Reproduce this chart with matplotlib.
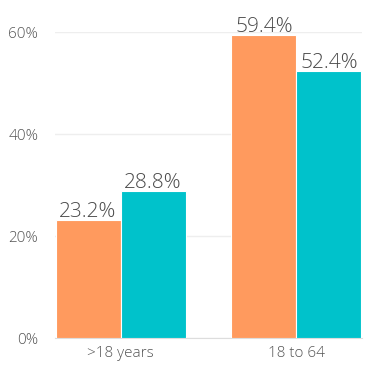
import numpy as np
import matplotlib.pyplot as plt

categories = ['>18 years', '18 to 64']
series_a = [23.2, 59.4]
series_b = [28.8, 52.4]
yticks = [0, 20, 40, 60]

plt.rcParams['font.family'] = ['Open Sans', 'DejaVu Sans']
plt.rcParams['font.weight'] = 'light'

fig = plt.figure(figsize=(3.86, 3.66), dpi=100)
ax = fig.add_axes([55/386, 28/366, 307/386, 306/366])

x = np.arange(len(categories))
w = 0.37
orange = '#FF9A5E'
teal = '#00C2CB'

bars_a = ax.bar(x - w/2, series_a, w, color=orange, edgecolor='white', linewidth=0.8, zorder=3)
bars_b = ax.bar(x + w/2, series_b, w, color=teal, edgecolor='white', linewidth=0.8, zorder=3)

for bars, vals in [(bars_a, series_a), (bars_b, series_b)]:
    for b, v in zip(bars, vals):
        ax.text(b.get_x() + b.get_width()/2, v - 0.4, f'{v}%', ha='center', va='bottom',
                fontsize=15, color='#4a4a4a', fontweight='light', zorder=4)

ax.set_xlim(-w - 0.003, 1 + w + 0.003)
ax.set_ylim(0, 60)
ax.set_yticks(yticks)
ax.set_yticklabels([f'{t}%' for t in yticks])
ax.set_xticks(x)
ax.set_xticklabels(categories)
ax.tick_params(axis='both', length=0, labelsize=11, labelcolor='#555555')
ax.tick_params(axis='y', pad=12)
ax.tick_params(axis='x', pad=6)
ax.yaxis.grid(True, color='#eeeeee', linewidth=1, zorder=0)
for s in ['top', 'right', 'left']:
    ax.spines[s].set_visible(False)
ax.spines['bottom'].set_color('#dddddd')

fig.savefig('out.png', dpi=100)
